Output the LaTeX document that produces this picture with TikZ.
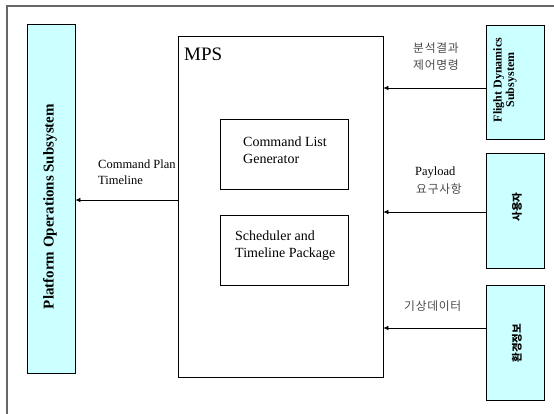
\documentclass[tikz,border=0pt]{standalone}
\usepackage{fontspec}
\setmainfont{Liberation Serif}
\newfontfamily\kr{Noto Sans CJK KR}
\newfontfamily\krspaced[LetterSpace=6]{Noto Sans CJK KR}
\usetikzlibrary{arrows.meta}
\definecolor{subfill}{HTML}{CCFFFF}
\definecolor{krgray}{HTML}{4A4A4A}
\begin{document}
\begin{tikzpicture}[x=1pt,y=-1pt,
  frame/.style={draw=black!60, line width=1.5pt},
  subsys/.style={draw=black, fill=subfill, line width=0.9pt, inner sep=0pt},
  plainbox/.style={draw=black, line width=0.7pt, inner sep=0pt},
  flow/.style={-{Latex[length=5pt,width=4.5pt]}, line width=0.7pt},
  boxtext/.style={inner sep=0pt, align=left, font=\fontsize{14}{17}\selectfont},
  lbl/.style={inner sep=0pt, align=left, font=\fontsize{12.5}{16.5}\selectfont},
  krlbl/.style={inner sep=0pt, align=left, text=krgray, font=\krspaced\fontsize{11.8}{17}\selectfont},
  vtext/.style={inner sep=0pt, rotate=90, align=center, font=\bfseries\fontsize{15}{18}\selectfont},
  vkr/.style={inner sep=0pt, rotate=90, font=\kr\bfseries\fontsize{10.5}{12}\selectfont}]
\useasboundingbox (0,0) rectangle (554,413);

% outer frame
\draw[frame] (556,6) -- (7,6) -- (7,415);

% subsystems
\node[subsys, minimum width=48pt, minimum height=349pt] (pos) at (51,198.5) {};
\node[subsys, minimum width=58pt, minimum height=114pt] (fds) at (515,82) {};
\node[subsys, minimum width=58pt, minimum height=115pt] (user) at (515,210.5) {};
\node[subsys, minimum width=58pt, minimum height=115pt] (env) at (515,342.5) {};

\node[vtext] (posname) at (50,206.5) {Platform Operations Subsystem};
\node[vtext, font=\bfseries\fontsize{12}{12.5}\selectfont] (fdsname) at (505,80) {Flight Dynamics\\Subsystem};
\node[vkr] (username) at (517,207) {사용자};
\node[vkr] (envname) at (517,343) {환경정보};

% mission planning system
\node[plainbox, minimum width=205pt, minimum height=341pt] (mps) at (280.5,206.5) {};
\node[inner sep=0pt, anchor=base west, font=\fontsize{19}{22}\selectfont] (mpsname) at (184,60) {MPS};

\node[plainbox, minimum width=128pt, minimum height=70pt] (cmd) at (284,154) {};
\node[boxtext, anchor=west] (cmdname) at (243,150) {Command List\\Generator};
\node[plainbox, minimum width=128pt, minimum height=70pt] (sched) at (284,250) {};
\node[boxtext, anchor=west] (schedname) at (235,246) {Scheduler and\\Timeline Package};

% data flows
\draw[flow] ([yshift=-6pt]fds.west) -- ([yshift=-6pt]fds.west -| mps.east);
\draw[flow] ([yshift=-1.5pt]user.west) -- ([yshift=-1.5pt]user.west -| mps.east);
\draw[flow] ([yshift=14.5pt]env.west) -- ([yshift=14.5pt]env.west -| mps.east);
\draw[flow] ([yshift=6.5pt]mps.west) -- ([yshift=6.5pt]mps.west -| pos.east);

% flow labels
\node[krlbl, anchor=west] (fdsflow) at (413,57) {분석결과\\제어명령};
\node[lbl, anchor=west] (userflow1) at (415,173) {Payload};
\node[krlbl, anchor=west] (userflow2) at (416,189) {요구사항};
\node[krlbl, anchor=west] (envflow) at (404,306) {기상데이터};
\node[lbl, anchor=west] (posflow) at (98,172) {Command Plan\\Timeline};
\end{tikzpicture}
\end{document}
